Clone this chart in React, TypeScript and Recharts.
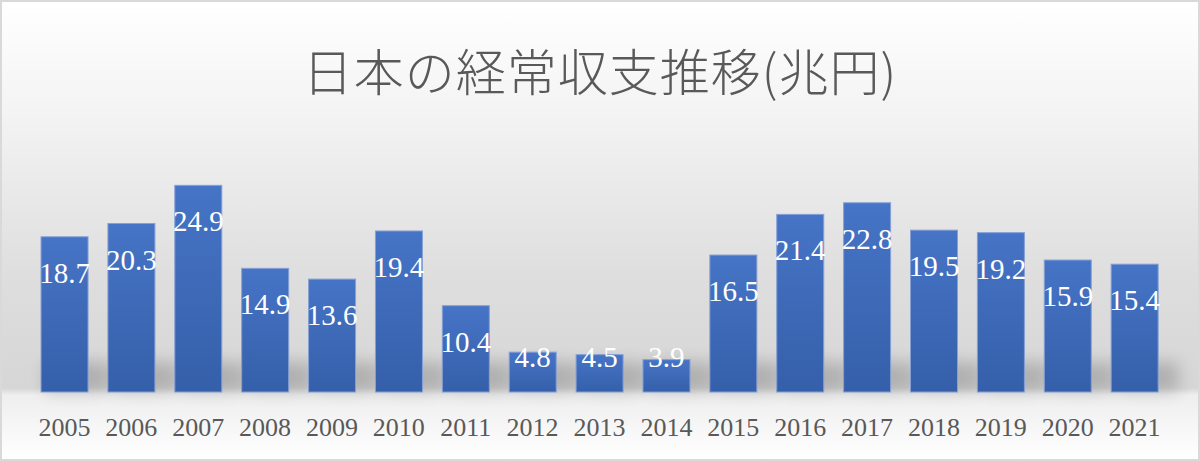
import React from 'react'
import { BarChart, Bar, XAxis, YAxis, LabelList } from 'recharts'

const years = ['2005', '2006', '2007', '2008', '2009', '2010', '2011', '2012', '2013', '2014', '2015', '2016', '2017', '2018', '2019', '2020', '2021']
const balance = [18.7, 20.3, 24.9, 14.9, 13.6, 19.4, 10.4, 4.8, 4.5, 3.9, 16.5, 21.4, 22.8, 19.5, 19.2, 15.9, 15.4]

const data = years.map((year, i) => ({ year, value: balance[i] }))

const serif = '"Liberation Serif", "DejaVu Serif", serif'

// bar with a soft floor shadow behind its base
const BarShape = (props: any) => {
  const { x, y, width, height } = props
  return (
    <g>
      <rect
        x={x + 4}
        y={y + height - Math.min(height, 30)}
        width={width + 16}
        height={Math.min(height, 30)}
        fill="#000"
        opacity={0.18}
        filter="url(#barShadow)"
      />
      <rect x={x} y={y} width={width} height={height} fill="url(#barFill)" stroke="#86a0d6" strokeWidth={1} />
    </g>
  )
}

const ValueLabel = (props: any) => {
  const { x, y, width, height, value } = props
  const cy = Math.min(y + 36, y + height - 35)
  return (
    <text
      x={x + width / 2}
      y={cy}
      textAnchor="middle"
      dominantBaseline="central"
      fill="#ffffff"
      fontFamily={serif}
      fontSize={29}
    >
      {value}
    </text>
  )
}

const YearTick = (props: any) => {
  const { x, payload } = props
  return (
    <text x={x} y={427} textAnchor="middle" dominantBaseline="central" fill="#595959" fontFamily={serif} fontSize={26}>
      {payload.value}
    </text>
  )
}

export default function App() {
  return (
    <div
      style={{
        position: 'fixed',
        left: 0,
        top: 0,
        width: 1200,
        height: 461,
        boxSizing: 'border-box',
        border: '2px solid #d9d9d9',
        background:
          'linear-gradient(to bottom, #ffffff 0%, #f3f3f3 25%, #dedede 60%, #d6d6d6 84.5%, #eeeeee 86%, #ffffff 100%)',
        overflow: 'hidden',
      }}
    >
      <div
        style={{
          position: 'absolute',
          left: 0,
          top: 34,
          width: 1196,
          textAlign: 'center',
          fontFamily: '"Noto Sans CJK JP", sans-serif',
          fontSize: 50,
          lineHeight: '66px',
          color: '#595959',
          fontWeight: 300,
          letterSpacing: 1,
        }}
      >
        日本の経常収支推移(兆円)
      </div>
      <div style={{ position: 'absolute', left: -2, top: -2 }}>
        <BarChart width={1200} height={461} data={data} margin={{ top: 143, right: 32, bottom: 0, left: 31 }} barCategoryGap="15%">
          <defs>
            <linearGradient id="barFill" x1="0" y1="0" x2="0" y2="1">
              <stop offset="0%" stopColor="#4674c6" />
              <stop offset="100%" stopColor="#355fa9" />
            </linearGradient>
            <filter id="barShadow" x="-50%" y="-50%" width="200%" height="200%">
              <feGaussianBlur stdDeviation="8" />
            </filter>
          </defs>
          <XAxis dataKey="year" height={69} axisLine={false} tickLine={false} tick={<YearTick />} interval={0} />
          <YAxis hide domain={[0, 30]} />
          <Bar dataKey="value" shape={<BarShape />} isAnimationActive={false}>
            <LabelList dataKey="value" content={<ValueLabel />} />
          </Bar>
        </BarChart>
      </div>
    </div>
  )
}
